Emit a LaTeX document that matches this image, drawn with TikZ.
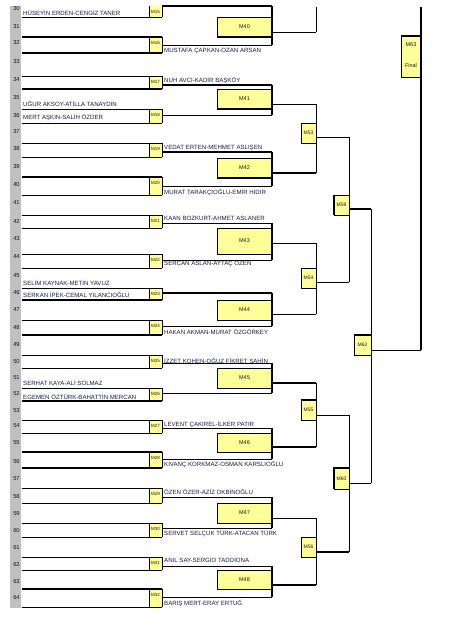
\documentclass[tikz,border=0pt]{standalone}
\usepackage{fontspec}
\setmainfont{Liberation Sans}
\definecolor{cellyellow}{RGB}{255,255,153}
\definecolor{hdrgray}{RGB}{192,192,192}
\definecolor{nametext}{RGB}{25,25,70}
\definecolor{numgray}{RGB}{20,20,20}
\tikzset{
  wthin/.style={line width=0.75pt},
  wthick/.style={line width=1.7pt},
  noline/.style={draw=none},
  rownum/.style={font=\fontsize{5.8}{6}\selectfont, text=numgray, inner sep=0pt},
  pname/.style={font=\fontsize{6.1}{7}\selectfont, text=nametext, inner sep=0pt, anchor=base west},
  mlab/.style={font=\fontsize{4.5}{5}\selectfont, text=black!90, inner sep=0pt},
  rtwolab/.style={font=\fontsize{5.5}{6}\selectfont, text=black!90, inner sep=0pt},
  rbox/.style={fill=cellyellow, draw=black, line width=0.6pt, inner sep=0pt,
               font=\fontsize{5}{6}\selectfont, text=black!90},
}
\begin{document}
\begin{tikzpicture}[x=1pt,y=-1pt]
\useasboundingbox (0,0) rectangle (448,617);
% gray header column
\fill[hdrgray] (10,6) rectangle (21,608);
\foreach \r/\y in {30/9,31/27,32/43,33/62,34/80,35/98,36/116,37/132,38/149,39/167,
  40/185,41/203,42/221,43/239,44/257,45/276,46/293,47/310,48/328,49/345,50/362,
  51/378,52/394,53/410,54/426,55/443,56/461,57/479,58/496,59/513,60/530,61/547,
  62/564,63/581,64/597}
  \node[rownum] (row\r) at (16.5,\y) {\r};
% round 1 cells
\foreach \m/\t/\b/\wt/\wb in {15/6/17/noline/wthin, 16/37/53/wthick/wthick,
  17/76/89/wthin/wthick, 18/109/123/wthin/wthin, 19/143/157/wthin/wthin,
  20/177/195/wthick/wthin, 21/215/228/wthin/wthin, 22/254/268/wthin/wthin,
  23/288/300/wthin/wthick, 24/320/335/wthin/wthick, 25/355/368/wthin/wthin,
  26/388/401/wthin/wthick, 27/420/433/wthin/wthin, 28/452/468/wthick/wthick,
  29/488/503/wthin/wthin, 30/523/537/wthin/wthin, 31/557/570/wthin/wthin,
  32/589/607/wthick/wthin}{
  \fill[cellyellow] (149,\t) rectangle (162,\b);
  \draw[wthin] (149,\t) -- (149,\b);
  \draw[wthin] (162,\t) -- (162,\b);
  \draw[\wt] (22,\t) -- (162,\t);
  \draw[\wb] (22,\b) -- (162,\b);
  \node[mlab] (m\m) at (155.5,{\t+5.5}) {M\m};
}
% round 2 blocks
\foreach \m/\tp/\ya/\yb/\bt/\ex/\wt/\wx/\wy in {40/6/17/37/45/32/wthick/wthin/wthick,
  41/85/89/109/115/104/wthick/wthin/wthick, 42/152/158/178/186/173/wthick/wthick/wthick,
  43/223/228/254/260/243/wthin/wthin/wthin, 44/293/300/320/326/314/wthick/wthin/wthin,
  45/363/368/388/393/383/wthin/wthick/wthin, 46/428/433/452/459/447/wthin/wthick/wthin,
  47/497/503/523/528/518/wthin/wthin/wthin, 48/566/570/589/597/585/wthin/wthick/wthin}{
  \draw[\wt] (162,\tp) -- (272,\tp);
  \draw[wthin] (162,\bt) -- (272,\bt);
  \fill[cellyellow] (217,\ya) rectangle (272,\yb);
  \draw[wthin] (217,\ya) rectangle (272,\yb);
  \draw[\wy] (217,\yb) -- (272,\yb);
  \node[rtwolab] (M\m) at (244.5,{(\ya+\yb)/2}) {M\m};
  \draw[wthick] (272,\tp) -- (272,\bt);
  \coordinate (x\m) at (272,\ex);
  \coordinate (e\m) at (316,\ex);
  \draw[\wx] (x\m) -- (e\m);
}
% round 3
\coordinate (top316) at (316,7);
\draw[wthin] (top316) -- (e40);
\draw[wthin] (e41) -- (e42);
\draw[wthin] (e43) -- (e44);
\draw[wthin] (e45) -- (e46);
\draw[wthin] (e47) -- (e48);
\node[rbox, minimum width=15pt, minimum height=20pt] (M53) at (308.5,133) {M53};
\node[rbox, minimum width=15pt, minimum height=20pt] (M54) at (308.5,278) {M54};
\node[rbox, minimum width=15pt, minimum height=20pt] (M55) at (308.5,410) {M55};
\node[rbox, minimum width=15pt, minimum height=20pt] (M56) at (308.5,547) {M56};
\draw[wthick] (M55.north west) -- (M55.north east);
\coordinate (s53) at (316,137); \coordinate (f53) at (349,137);
\coordinate (s54) at (316,282); \coordinate (f54) at (349,282);
\coordinate (s55) at (316,415); \coordinate (f55) at (349,415);
\coordinate (s56) at (316,552); \coordinate (f56) at (349,552);
\draw[wthin] (s53) -- (f53);
\draw[wthin] (s54) -- (f54);
\draw[wthin] (s55) -- (f55);
\draw[wthick] (s56) -- (f56);
\draw[wthin] (f53) -- (f54);
\draw[wthin] (f55) -- (f56);
% round 4
\node[rbox, minimum width=15pt, minimum height=20pt] (M59) at (341.5,205) {M59};
\node[rbox, minimum width=15pt, minimum height=21pt] (M60) at (341.5,478.5) {M60};
\draw[wthick] (M59.north west) -- (M59.south west);
\draw[wthick] (M60.south west) -- (M60.north west) -- (M60.north east);
\coordinate (s59) at (349,209); \coordinate (h59) at (371,209);
\coordinate (s60) at (349,483); \coordinate (h60) at (371,483);
\draw[wthick] (s59) -- (h59);
\draw[wthin] (s60) -- (h60);
\draw[wthin] (h59) -- (h60);
% semi final
\node[rbox, minimum width=17pt, minimum height=20pt] (M62) at (362.5,345) {M62};
\draw[wthick] (M62.north west) -- (M62.north east);
\coordinate (s62) at (371,350); \coordinate (k62) at (421,350);
\draw[wthin] (s62) -- (k62);
% final
\node[rbox, minimum width=20pt, minimum height=41pt] (M63) at (411,56.5) {};
\draw[wthick] (M63.north west) -- (M63.north east);
\node[rtwolab] (M63a) at (411,45) {M63};
\node[rtwolab] (M63b) at (411,65.5) {Final};
\coordinate (top421) at (421,7);
\draw[line width=2.2pt] (top421) -- (k62);
% names, left side
\foreach \y/\txt in {13/{HÜSEYİN ERDEN-CENGİZ TANER}, 104.5/{UĞUR AKSOY-ATİLLA TANAYDIN},
  117.5/{MERT AŞKIN-SALİH ÖZDER}, 283/{SELİM KAYNAK-METİN YAVUZ},
  295/{SERKAN İPEK-CEMAL YILANCIOĞLU}, 383/{SERHAT KAYA-ALİ SOLMAZ},
  397/{EGEMEN ÖZTÜRK-BAHATTİN MERCAN}}
  \node[pname] at (23,{\y+2.15}) {\txt};
% names, right side
\foreach \y/\txt in {50/{MUSTAFA ÇAPKAN-OZAN ARSAN}, 80/{NUH AVCI-KADİR BAŞKÖY},
  147/{VEDAT ERTEN-MEHMET ASLIŞEN}, 192/{MURAT TARAKÇIOĞLU-EMİR HIDIR},
  218/{KAAN BOZKURT-AHMET ASLANER}, 263/{SERCAN ASLAN-AYTAÇ ÖZEN},
  332/{HAKAN AKMAN-MURAT ÖZGÖRKEY}, 361/{İZZET KOHEN-OĞUZ FİKRET ŞAHİN},
  424/{LEVENT ÇAKIREL-İLKER PATIR}, 464/{KIVANÇ KORKMAZ-OSMAN KARSLIOĞLU},
  492/{ÖZEN ÖZER-AZİZ OKBİNOĞLU}, 533/{SERVET SELÇUK TÜRK-ATACAN TÜRK},
  560/{ANIL SAY-SERGİO TADDİONA}, 603/{BARIŞ MERT-ERAY ERTUĞ}}
  \node[pname] at (164,{\y+2.15}) {\txt};
\end{tikzpicture}
\end{document}
